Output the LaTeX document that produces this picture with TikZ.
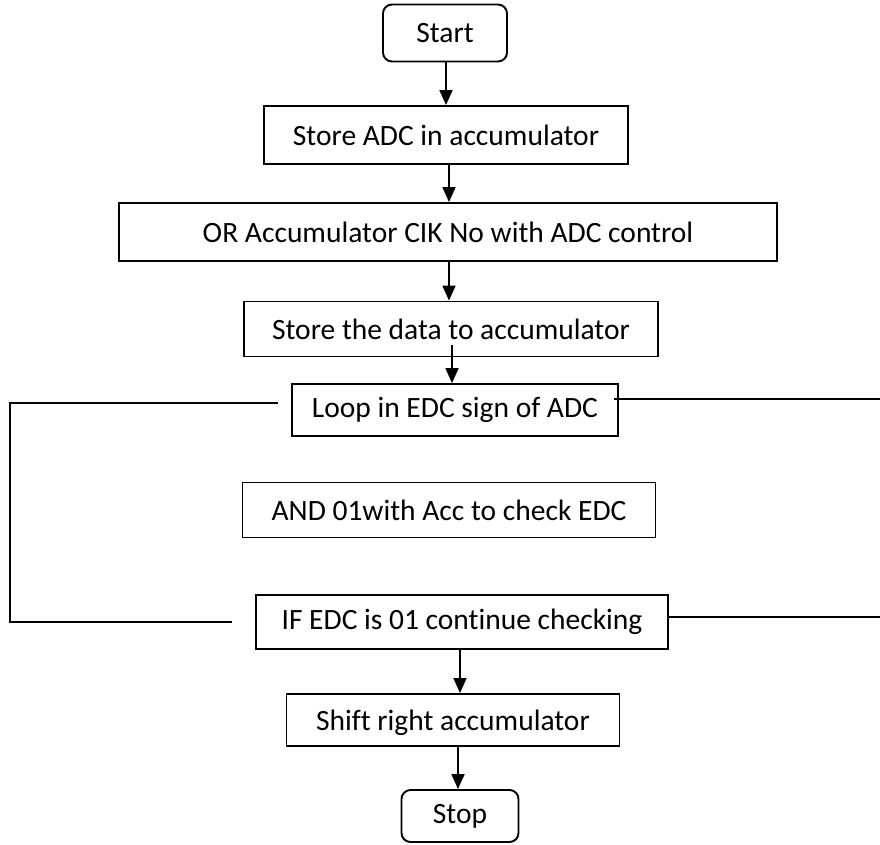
\documentclass[tikz,border=0pt]{standalone}
\usepackage{fontspec}
\setmainfont{Carlito}[Ligatures=NoCommon]
\usetikzlibrary{arrows.meta}
\begin{document}
\begin{tikzpicture}[x=1pt,y=-1pt,
  font=\fontsize{29.5}{33}\selectfont,
  box/.style={draw, line width=1.9pt, inner sep=0pt, minimum height=56pt},
  term/.style={box, rounded corners=9pt},
  arr/.style={line width=1.8pt, -{Triangle[width=13pt,length=15pt]}},
  loopline/.style={line width=1.6pt}]
\useasboundingbox (0,0) rectangle (880,844);

% process steps
\node[term, minimum width=124pt, minimum height=57pt] (start) at (445,33) {Start};
\node[box, minimum width=364pt, minimum height=58pt] (b1) at (446,135) {Store ADC in accumulator};
\node[box, minimum width=658pt, minimum height=58pt] (b2) at (448,232) {OR Accumulator CIK No with ADC control};
\node[box, minimum width=414pt, minimum height=55pt] (b3) at (451,329) {Store the data to accumulator};
\node[box, minimum width=326pt, minimum height=52pt] (b4) at (455,410) {Loop in EDC sign of ADC};
\node[box, minimum width=413pt, minimum height=55pt] (b5) at (449,510) {AND 01with Acc to check EDC};
\node[box, minimum width=412pt, minimum height=54pt] (b6) at (462,622) {IF EDC is 01 continue checking};
\node[box, minimum width=333pt, minimum height=52pt, text height=27pt, text depth=6pt] (b7) at (453,720) {Shift right accumulator};
\node[term, minimum width=117pt, minimum height=52pt] (stop) at (460,816) {Stop};

% arrow columns
\coordinate (c1) at (446,0);
\coordinate (c2) at (449,0);
\coordinate (c3) at (452,0);
\coordinate (c6) at (460,0);
\coordinate (c7) at (458,0);
\coordinate (t3) at (452,345);

\draw[arr] (start.south -| c1) -- (b1.north -| c1);
\draw[arr] (b1.south -| c2) -- (b2.north -| c2);
\draw[arr] (b2.south -| c2) -- (b3.north -| c2);
\draw[arr] (t3) -- (b4.north -| c3);
\draw[arr] (b6.south -| c6) -- (b7.north -| c6);
\draw[arr] (b7.south -| c7) -- (stop.north -| c7);

% loop lines on both sides
\coordinate (lt) at (278,403);
\coordinate (lb) at (232,622);
\coordinate (rt) at (880,399);
\coordinate (rb) at (880,617);
\draw[loopline] (lt) -- (10,403) -- (10,622) -- (lb);
\draw[loopline] (614,399) -- (rt);
\draw[loopline] (b6.east |- rb) -- (rb);
\end{tikzpicture}
\end{document}
